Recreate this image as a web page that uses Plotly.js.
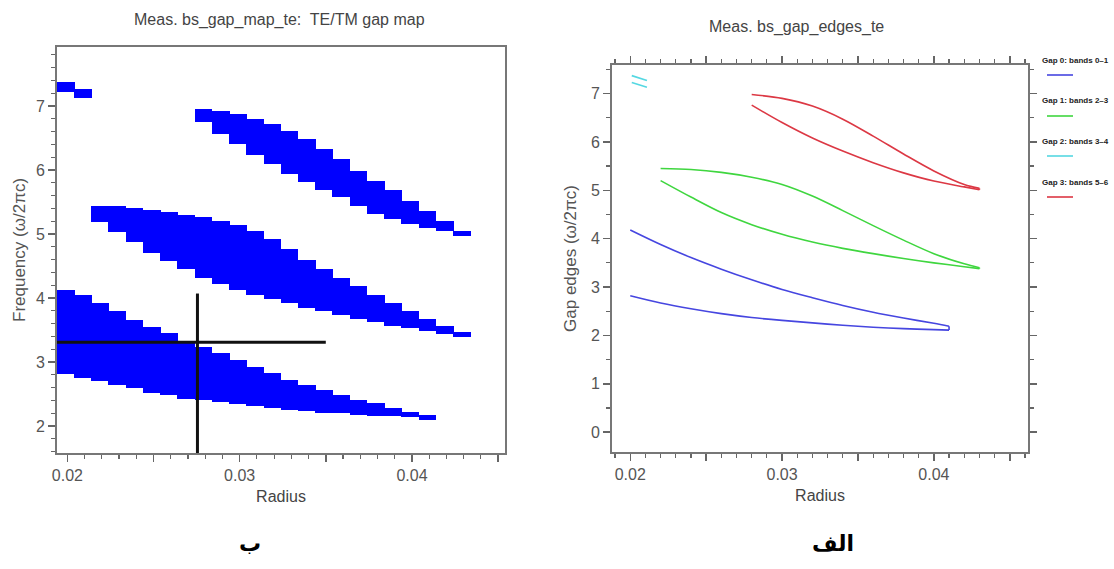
<!DOCTYPE html>
<html>
<head>
<meta charset="utf-8">
<script src="https://cdn.plot.ly/plotly-3.0.1.min.js"></script>
<style>html,body{margin:0;padding:0;background:#fff;}#chart{width:1114px;height:569px;}</style>
</head>
<body>
<div id="chart"></div>
<script>
// ---------- Left panel: gap map (stepped columns) ----------
const radiusCols = [0.0199,0.0209,0.0219,0.0229,0.0239,0.0249,0.0259,0.0269,0.0279,0.0289,0.0299,0.0309,
                    0.0319,0.0329,0.0339,0.0349,0.0359,0.0369,0.0379,0.0389,0.0399,0.0409,0.0419,0.0429];
const mapGap0Top = [4.13,4.05,3.92,3.79,3.66,3.55,3.45,3.33,3.23,3.14,3.03,2.93,2.83,2.72,2.64,2.56,2.48,2.41,2.36,2.28,2.22,2.17,null,null];
const mapGap0Bot = [2.82,2.75,2.70,2.64,2.59,2.52,2.48,2.43,2.41,2.38,2.34,2.31,2.28,2.25,2.23,2.21,2.20,2.17,2.16,2.15,2.14,2.10,null,null];
const mapGap1Top = [null,null,5.44,5.43,5.40,5.38,5.34,5.30,5.26,5.21,5.14,5.05,4.92,4.76,4.60,4.45,4.31,4.18,4.05,3.92,3.79,3.68,3.57,3.47];
const mapGap1Bot = [null,null,5.18,5.03,4.87,4.71,4.58,4.45,4.32,4.22,4.12,4.05,3.98,3.92,3.84,3.79,3.73,3.68,3.63,3.57,3.53,3.48,3.44,3.39];
const mapGap2Top = [7.38,7.27,null,null,null,null,null,null,null,null,null,null,null,null,null,null,null,null,null,null,null,null,null,null];
const mapGap2Bot = [7.21,7.13,null,null,null,null,null,null,null,null,null,null,null,null,null,null,null,null,null,null,null,null,null,null];
const mapGap3Top = [null,null,null,null,null,null,null,null,6.95,6.92,6.87,6.80,6.72,6.61,6.48,6.33,6.17,5.99,5.83,5.68,5.52,5.36,5.21,5.05];
const mapGap3Bot = [null,null,null,null,null,null,null,null,6.75,6.56,6.41,6.24,6.09,5.94,5.81,5.68,5.57,5.44,5.31,5.23,5.16,5.10,5.04,4.97];

// crosshair cursor (radius, frequency)
const cursorHx = [0.0194, 0.0350];
const cursorHy = [3.31, 3.31];
const cursorVx = [0.02755, 0.02755];
const cursorVy = [1.58, 4.07];

// ---------- Right panel: gap edges ----------
const gapNames = ['Gap 0: bands 0\u20131','Gap 1: bands 2\u20133','Gap 2: bands 3\u20134','Gap 3: bands 5\u20136'];
const gapColors = ['#4646e0','#3fd63f','#55d8e2','#dc3844'];
const gap0R = [0.020,0.022,0.024,0.026,0.028,0.030,0.032,0.034,0.036,0.038,0.040,0.041];
const gap0Upper = [4.18,3.88,3.61,3.37,3.15,2.95,2.78,2.62,2.48,2.36,2.25,2.19];
const gap0Lower = [2.82,2.67,2.55,2.45,2.37,2.31,2.26,2.21,2.17,2.14,2.12,2.11];
const gap1R = [0.022,0.024,0.026,0.028,0.030,0.032,0.034,0.036,0.038,0.040,0.042,0.043];
const gap1Upper = [5.45,5.43,5.37,5.27,5.12,4.88,4.58,4.27,3.97,3.69,3.48,3.40];
const gap1Lower = [5.20,4.86,4.54,4.29,4.09,3.93,3.80,3.69,3.59,3.50,3.42,3.38];
const gap2R = [0.0201,0.0211];
const gap2Upper = [7.37,7.27];
const gap2Lower = [7.23,7.13];
const gap3R = [0.028,0.030,0.032,0.034,0.036,0.038,0.040,0.042,0.043];
const gap3Upper = [6.98,6.90,6.74,6.47,6.12,5.75,5.40,5.12,5.04];
const gap3Lower = [6.76,6.40,6.08,5.81,5.57,5.36,5.19,5.07,5.01];
const gapJoined = [true,true,false,true];

const FONT = 'Liberation Sans, Arial, sans-serif';
const GREY = '#555';
const AXC = '#777';

const traces = [];
function bandBars(top, bot) {
  return {
    type:'bar', x: radiusCols,
    y: top.map((t,i)=> t==null ? null : +(t - bot[i]).toFixed(3)),
    base: bot, width: 0.00103,
    marker:{color:'#0000ff', line:{width:0}},
    xaxis:'x', yaxis:'y', showlegend:false, hoverinfo:'skip'
  };
}
traces.push(bandBars(mapGap0Top, mapGap0Bot));
traces.push(bandBars(mapGap1Top, mapGap1Bot));
traces.push(bandBars(mapGap2Top, mapGap2Bot));
traces.push(bandBars(mapGap3Top, mapGap3Bot));
traces.push({type:'scatter', mode:'lines', x:cursorHx, y:cursorHy, line:{color:'#111', width:3}, xaxis:'x', yaxis:'y', showlegend:false});
traces.push({type:'scatter', mode:'lines', x:cursorVx, y:cursorVy, line:{color:'#111', width:3}, xaxis:'x', yaxis:'y', showlegend:false});

const edgeSets = [[gap0R,gap0Upper,gap0Lower],[gap1R,gap1Upper,gap1Lower],[gap2R,gap2Upper,gap2Lower],[gap3R,gap3Upper,gap3Lower]];
edgeSets.forEach((s,i)=>{
  const [r,u,l] = s;
  traces.push({type:'scatter', mode:'lines', x:r, y:l, name:gapNames[i],
    line:{color:gapColors[i], width:1.6, shape:'spline', smoothing:0.9},
    xaxis:'x2', yaxis:'y2', showlegend:false});
  traces.push({type:'scatter', mode:'lines', x:r, y:u, name:gapNames[i],
    line:{color:gapColors[i], width:1.6, shape:'spline', smoothing:0.9},
    xaxis:'x2', yaxis:'y2', showlegend:false});
  if (gapJoined[i]) {
    const n = r.length - 1;
    traces.push({type:'scatter', mode:'lines', x:[r[n], r[n]], y:[l[n], u[n]],
      line:{color:gapColors[i], width:1.6}, xaxis:'x2', yaxis:'y2', showlegend:false});
  }
});

const tickFont = {family:FONT, size:16, color:GREY};
const titleFont = {family:FONT, size:16, color:'#444'};

const xTickVals = [0.02,0.025,0.03,0.035,0.04,0.045];
const xTickText = ['0.02','','0.03','','0.04',''];

const shapes = [];
const annotations = [
  {text:'Meas. bs_gap_map_te:  TE/TM gap map', x:0.2513, y:0.9649, xref:'paper', yref:'paper', showarrow:false, font:titleFont, xanchor:'center', yanchor:'middle'},
  {text:'Meas. bs_gap_edges_te', x:0.7154, y:0.9525, xref:'paper', yref:'paper', showarrow:false, font:titleFont, xanchor:'center', yanchor:'middle'},
  {text:'<b>ب</b>', x:250/1114, y:1-543/569, xref:'paper', yref:'paper', showarrow:false, xanchor:'center', yanchor:'middle', font:{family:'DejaVu Sans', size:22, color:'#000'}},
  {text:'<b>الف</b>', x:833/1114, y:1-543/569, xref:'paper', yref:'paper', showarrow:false, xanchor:'center', yanchor:'middle', font:{family:'DejaVu Sans', size:22, color:'#000'}}
];
const legTextY = [60,101,141,182];
gapNames.forEach((n,i)=>{
  annotations.push({text:'<b>'+n+'</b>', x:1040/1114, y:1-legTextY[i]/569, xref:'paper', yref:'paper', showarrow:false,
    xanchor:'left', yanchor:'middle', font:{family:FONT, size:8, color:'#222'}});
  shapes.push({type:'line', xref:'paper', yref:'paper', x0:1047/1114, x1:1073/1114,
    y0:1-(legTextY[i]+15)/569, y1:1-(legTextY[i]+15)/569, line:{color:gapColors[i], width:1.6}});
});

const layout = {
  width:1114, height:569,
  margin:{l:0,r:0,t:0,b:0},
  paper_bgcolor:'#fff', plot_bgcolor:'#fff',
  barmode:'overlay', bargap:0,
  showlegend:false,
  font:{family:FONT, color:GREY},
  xaxis:{domain:[0.0512,0.4533], range:[0.0194,0.0454], anchor:'y',
    tickmode:'array', tickvals:xTickVals, ticktext:xTickText, ticks:'outside', ticklen:7, tickwidth:1.5, tickcolor:'#666',
    minor:{dtick:0.001, tick0:0.02, ticks:'outside', ticklen:4, tickcolor:'#666', tickwidth:1.2},
    showline:true, linecolor:AXC, linewidth:2, mirror:true, showgrid:false, zeroline:false,
    tickfont:tickFont, title:{text:'Radius', font:titleFont, standoff:8}, automargin:false},
  yaxis:{domain:[0.2039,0.9174], range:[1.58,7.92], anchor:'x',
    dtick:1, tick0:0, ticks:'outside', ticklen:7, tickwidth:1.5, tickcolor:'#666',
    minor:{dtick:0.2, ticks:'outside', ticklen:4, tickcolor:'#666', tickwidth:1.2},
    showline:true, linecolor:AXC, linewidth:2, mirror:true, showgrid:false, zeroline:false,
    tickfont:tickFont, title:{text:'Frequency (ω/2πc)', font:{family:FONT, size:17, color:GREY}, standoff:6}, automargin:false},
  xaxis2:{domain:[0.5494,0.9228], range:[0.0188,0.0462], anchor:'y2',
    tickmode:'array', tickvals:xTickVals, ticktext:xTickText, ticks:'outside', ticklen:7, tickwidth:1.5, tickcolor:'#666',
    minor:{dtick:0.001, tick0:0.02, ticks:'outside', ticklen:4, tickcolor:'#666', tickwidth:1.2},
    showline:true, linecolor:AXC, linewidth:2, mirror:'allticks', showgrid:false, zeroline:false,
    tickfont:tickFont, title:{text:'Radius', font:titleFont, standoff:8}, automargin:false},
  yaxis2:{domain:[0.2056,0.8858], range:[-0.41,7.59], anchor:'x2',
    dtick:1, tick0:0, ticks:'outside', ticklen:7, tickwidth:1.5, tickcolor:'#666',
    minor:{dtick:0.5, ticks:'outside', ticklen:4, tickcolor:'#666', tickwidth:1.2},
    showline:true, linecolor:AXC, linewidth:2, mirror:'allticks', showgrid:false, zeroline:false,
    tickfont:tickFont, title:{text:'Gap edges (ω/2πc)', font:{family:FONT, size:17, color:GREY}, standoff:10}, automargin:false},
  annotations:annotations,
  shapes:shapes
};

Plotly.newPlot('chart', traces, layout, {displayModeBar:false, staticPlot:true});
</script>
</body>
</html>
